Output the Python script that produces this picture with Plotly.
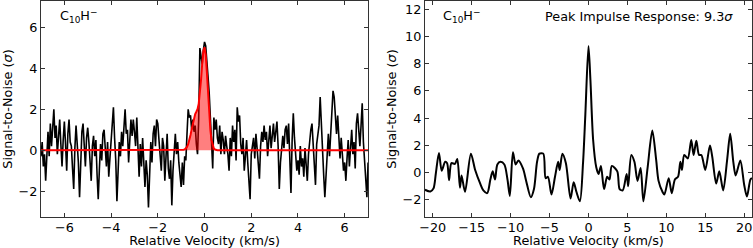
import numpy as np
import plotly.graph_objects as go

# ---------------- Left panel: spectrum (channel spacing 0.05 km/s, -7..7) ----------------
v_start, v_step = -7.0, 0.05
snr_rows = [
    [-0.3, 0.4, -0.8, -0.2, -1.5, -0.4, 0.9, -0.3, 1.3, 0.2, 1.0, 2.0, 0.6, 1.2, -0.2, 0.8, 1.5, 0.3, -0.8, 0.5],
    [1.4, 0.3, -1.0, 0.8, 1.5, 0.4, 0.2, -0.9, -1.9, 0.1, 1.2, 0.3, -0.6, -2.3, -0.5, 0.9, 1.3, 0.2, -0.8, 0.6],
    [1.1, 0.4, -0.6, -1.5, 0.2, 0.7, -0.3, 0.5, -1.2, -2.4, -0.9, 0.3, -0.5, 0.8, 1.0, -0.2, -0.8, 0.4, -1.3, -0.4],
    [0.3, 1.2, 2.1, 0.6, -0.5, -2.5, -1.0, 0.4, -0.3, 0.9, 0.2, 1.3, 2.0, 0.8, 1.0, -0.6, 0.5, 1.5, 0.7, 1.5],
    [0.9, 0.2, 1.6, -0.4, -1.3, 0.3, -0.8, 0.6, -1.0, -1.8, -0.5, -1.2, -2.8, -0.9, 0.4, -0.6, 0.8, 1.2, 0.2, 1.5],
    [1.3, 0.5, -0.4, -1.0, 0.6, 0.2, -1.5, -0.3, 0.8, -0.9, -1.4, -0.5, -2.7, -1.0, 0.3, 0.8, -0.2, 0.4, -0.6, -1.2],
    [-1.8, -0.6, -1.7, -0.3, -0.5, 0.8, 2.0, 1.6, 1.7, 1.0, 1.5, 0.9, 1.2, 0.3, -0.2, 1.5, 5.0, 4.6, 4.2, 4.9],
    [5.3, 5.1, 4.5, 3.6, 2.8, 1.8, 0.4, -0.9, 1.6, 1.0, 1.5, 0.6, 0.3, 1.2, -0.2, 0.9, 0.5, -0.2, 0.7, 0.2],
    [-0.2, -1.0, 0.6, -0.3, 1.2, 0.4, 1.0, -0.5, 2.1, 1.4, 1.7, 0.3, -0.2, 0.6, -1.0, -0.3, 0.5, -0.6, -1.7, -2.4],
    [-0.2, 0.3, 0.6, -0.4, 0.8, 0.1, -0.5, -1.4, 0.2, 0.9, 0.4, 1.2, 0.5, 0.9, -0.3, 0.6, 1.2, 0.1, 0.8, 1.3],
    [0.4, 0.8, 1.4, 0.2, -1.9, -0.6, 0.3, 0.7, 0.1, 1.0, 1.2, 0.3, 1.3, -0.8, -2.1, 0.5, 1.8, 0.6, -0.3, -1.0],
    [-0.5, -1.2, 0.2, -0.8, -0.4, -1.3, 0.1, -0.9, -1.5, -0.2, 0.6, 1.0, 1.3, 0.4, -0.5, -1.7, 0.3, 0.9, 1.2, 2.6],
    [1.0, -0.6, -1.2, -2.3, -1.0, 0.2, 0.8, -0.3, 1.0, 2.2, 2.9, 2.6, 1.4, 0.8, 1.7, 0.3, -0.4, 0.6, -0.5, -1.0],
    [-0.6, -1.5, -0.4, 0.5, -0.8, 0.3, 1.0, -0.2, 0.4, -0.9, 1.3, 1.8, 0.7, 0.2, 1.2, 2.3, 0.4, -0.5, -1.4, -2.3],
    [-0.6],
]
spec_snr = [val for row in snr_rows for val in row]
spec_vel = np.round(v_start + v_step * np.arange(len(spec_snr)), 3)

# fitted line profile (red)
fit_vel = [-7.0, -1.0, -0.9, -0.85, -0.8, -0.75, -0.7, -0.65, -0.6, -0.55, -0.5, -0.45, -0.4, -0.35,
           -0.3, -0.25, -0.2, -0.15, -0.1, -0.05, 0.0, 0.05, 0.1, 0.15, 0.2, 0.25, 0.3, 0.35, 0.4,
           0.45, 0.5, 0.55, 7.0]
fit_snr = [0.0, 0.0, 0.02, 0.04, 0.08, 0.16, 0.29, 0.48, 0.74, 1.03, 1.33, 1.59, 1.77, 1.88,
           2.01, 2.26, 2.73, 3.44, 4.24, 4.86, 5.04, 4.67, 3.82, 2.77, 1.76, 0.99, 0.49, 0.21, 0.08,
           0.03, 0.01, 0.0, 0.0]

# ---------------- Right panel: impulse response ----------------
imp_vel = [-21.0, -20.3, -19.9, -19.6, -19.2, -18.85, -18.4, -18.15, -17.9, -17.6, -17.15, -16.85,
           -16.5, -16.3, -15.85, -15.1, -14.55, -13.9, -13.5, -13.0, -12.6, -12.3, -12.0, -11.7,
           -11.3, -10.8, -10.4, -10.1, -9.7, -9.35, -9.0, -8.4, -8.0, -7.4, -7.0, -6.6, -6.3, -5.8,
           -5.5, -5.2, -4.75, -4.3, -3.9, -3.7, -3.35, -2.9, -2.3, -1.9, -1.55, -1.1, -0.7, -0.4,
           0.0, 0.25, 0.6, 1.0, 1.3, 1.6, 2.0, 2.4, 2.7, 3.0, 3.7, 4.0, 4.4, 4.9, 5.1, 5.5, 5.9,
           6.3, 6.7, 7.05, 7.6, 8.2, 8.7, 9.0, 9.5, 9.75, 10.3, 10.7, 11.1, 11.5, 11.8, 12.0, 12.3,
           12.75, 13.2, 13.5, 13.85, 14.2, 14.5, 15.0, 15.6, 15.9, 16.4, 16.8, 17.3, 17.8, 18.2,
           18.6, 18.9, 19.5, 20.0, 20.35, 20.8, 21.0]
imp_snr = [-1.25, -1.38, -1.15, -0.05, 1.45, 0.15, 0.8, 0.7, -0.55, 0.7, 0.65, 1.0,
           -1.1, -0.2, -1.4, 1.4, 0.2, -0.8, -1.3, -1.5, -0.5, 0.1, -0.5, 0.6,
           0.8, 0.6, -0.5, -1.7, 1.5, 0.6, 0.9, 0.3, -0.6, -1.8, -1.2, 0.8, 1.4, 1.4,
           -0.4, -0.3, -1.6, -0.3, 0.8, 0.2, 1.4, 0.7, -1.9, -0.7, -1.4, -2.1, 0.7, 4.3,
           9.3, 6.8, 2.4, 0.4, -0.1, 0.5, -1.2, -0.3, -0.5, 0.5, 0.1, -1.2, -1.3, -0.1, -1.0, 1.3, 0.8,
           -0.6, 0.35, -2.1, 0.4, 3.1, 0.9, -0.6, -1.4, -1.6, -0.4, -1.5, -0.5, -0.3, 0.8, 0.2, 1.3,
           1.05, 2.4, 1.3, 2.35, 1.3, 1.3, 0.2, 2.0, 1.15, -0.8, 0.1, -1.3, 0.9, 2.85,
           0.8, -0.2, 0.9, -0.9, -1.75, -0.5, -0.4]

left_xticks = [-6, -4, -2, 0, 2, 4, 6]
left_yticks = [-2, 0, 2, 4, 6]
right_xticks = [-20, -15, -10, -5, 0, 5, 10, 15, 20]
right_yticks = [-2, 0, 2, 4, 6, 8, 10, 12]

FONT = "DejaVu Sans"
FS = 12.8

fig = go.Figure()
fig.add_trace(go.Scatter(x=spec_vel, y=spec_snr, mode="lines", line=dict(color="black", width=1.6),
                         xaxis="x", yaxis="y", showlegend=False))
fig.add_trace(go.Scatter(x=fit_vel, y=fit_snr, mode="lines", fill="tozeroy", fillcolor="rgba(255,0,0,0.5)",
                         line=dict(color="#ff0000", width=2), xaxis="x", yaxis="y", showlegend=False))
fig.add_trace(go.Scatter(x=imp_vel, y=imp_snr, mode="lines", line=dict(color="black", width=2, shape="spline", smoothing=0.8),
                         xaxis="x2", yaxis="y2", showlegend=False))

axis_common = dict(showgrid=False, zeroline=False, showline=True, linecolor="#333", linewidth=1,
                   mirror="allticks", ticks="inside", ticklen=4, tickwidth=1, tickcolor="#333",
                   tickfont=dict(family=FONT, size=FS, color="black"))

fig.update_layout(
    width=753, height=248,
    margin=dict(l=41, r=1, t=1, b=31),
    paper_bgcolor="white", plot_bgcolor="white",
    font=dict(family=FONT, size=FS, color="black"),
    xaxis=dict(domain=[0, 0.46], range=[-7, 7], tickvals=left_xticks, ticklabelstandoff=-1,
               title=dict(text="Relative Velocity (km/s)", font=dict(size=FS), standoff=1), anchor="y", **axis_common),
    yaxis=dict(domain=[0, 1], range=[-3.27, 7.3], tickvals=left_yticks,
               title=dict(text="Signal-to-Noise (<i>σ</i>)", font=dict(size=FS), standoff=3), anchor="x", **axis_common),
    xaxis2=dict(domain=[0.54, 1], range=[-21, 21], tickvals=right_xticks, ticklabelstandoff=-1,
                title=dict(text="Relative Velocity (km/s)", font=dict(size=FS), standoff=1), anchor="y2", **axis_common),
    yaxis2=dict(domain=[0, 1], range=[-3.25, 12.6], tickvals=right_yticks,
                title=dict(text="Signal-to-Noise (<i>σ</i>)", font=dict(size=FS), standoff=3), anchor="x2", **axis_common),
    annotations=[
        dict(text="C<sub>10</sub>H<sup>−</sup>", xref="x domain", yref="y domain", x=0.052, y=0.93,
             xanchor="left", yanchor="middle", showarrow=False, font=dict(family=FONT, size=FS)),
        dict(text="C<sub>10</sub>H<sup>−</sup>", xref="x2 domain", yref="y2 domain", x=0.049, y=0.93,
             xanchor="left", yanchor="middle", showarrow=False, font=dict(family=FONT, size=FS)),
        dict(text="Peak Impulse Response: 9.3<i>σ</i>", xref="x2 domain", yref="y2 domain", x=0.948, y=0.93,
             xanchor="right", yanchor="middle", showarrow=False, font=dict(family=FONT, size=FS)),
    ],
)

fig.write_html("out.html", config={"displayModeBar": False},
               post_script="document.body.style.margin='0';document.body.style.overflow='hidden';")
